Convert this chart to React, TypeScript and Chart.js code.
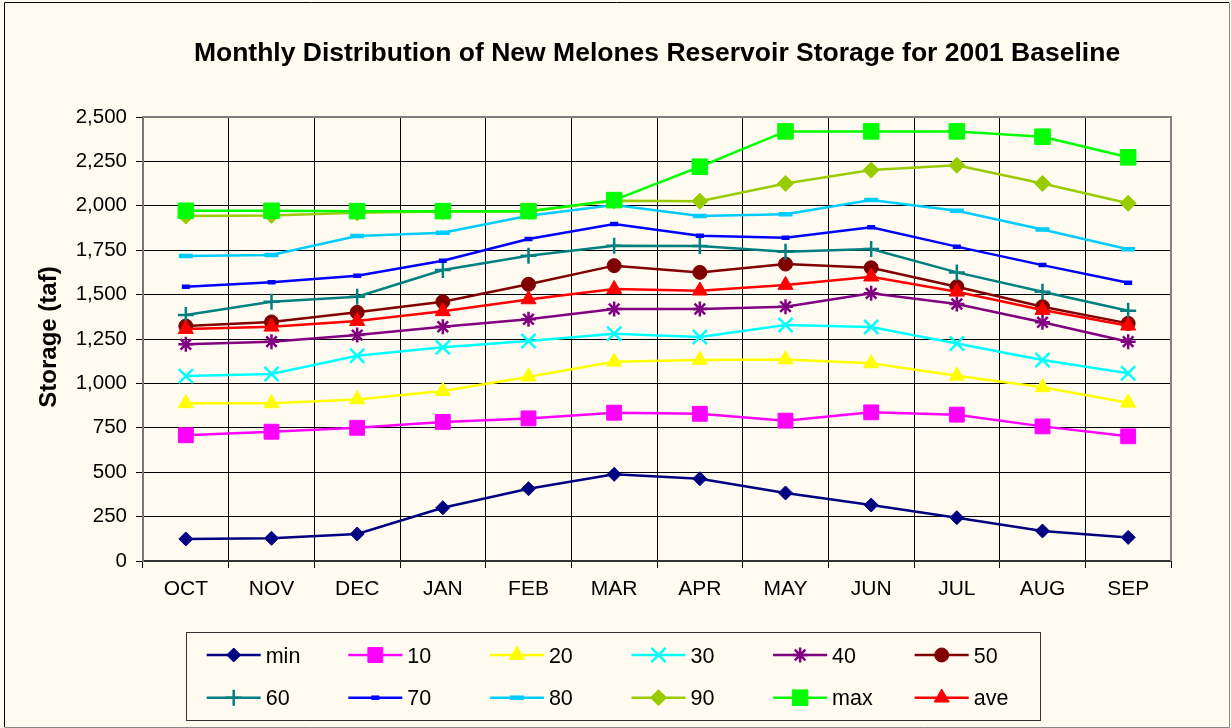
import React, { useEffect, useRef } from "react";
import { Chart, registerables } from "chart.js";
import { drawPoint } from "chart.js/helpers";
Chart.register(...registerables);

const months = ["OCT", "NOV", "DEC", "JAN", "FEB", "MAR", "APR", "MAY", "JUN", "JUL", "AUG", "SEP"];
const yTickValues = [0, 250, 500, 750, 1000, 1250, 1500, 1750, 2000, 2250, 2500];

const minVals = [124, 128, 152, 300, 407, 488, 463, 383, 315, 244, 169, 133];
const p10 = [708, 728, 750, 783, 803, 835, 829, 790, 837, 824, 758, 702];
const p20 = [888, 888, 910, 957, 1038, 1122, 1132, 1135, 1113, 1043, 978, 891];
const p30 = [1041, 1053, 1156, 1203, 1239, 1280, 1261, 1329, 1318, 1225, 1132, 1057];
const p40 = [1220, 1235, 1272, 1319, 1361, 1419, 1419, 1432, 1507, 1447, 1344, 1235];
const p50 = [1323, 1346, 1400, 1460, 1558, 1663, 1625, 1672, 1651, 1544, 1432, 1338];
const p60 = [1385, 1460, 1488, 1638, 1719, 1775, 1773, 1741, 1757, 1625, 1516, 1409];
const p70 = [1544, 1569, 1606, 1691, 1813, 1897, 1831, 1820, 1879, 1770, 1666, 1567];
const p80 = [1717, 1723, 1830, 1848, 1944, 2004, 1942, 1952, 2032, 1972, 1867, 1755];
const p90 = [1942, 1946, 1961, 1968, 1968, 2028, 2026, 2126, 2201, 2228, 2126, 2014];
const maxVals = [1972, 1972, 1970, 1970, 1970, 2032, 2220, 2419, 2419, 2419, 2389, 2273];
const aveVals = [1306, 1319, 1351, 1406, 1473, 1531, 1522, 1554, 1601, 1516, 1413, 1325];

const seriesNames = ["min", "10", "20", "30", "40", "50", "60", "70", "80", "90", "max", "ave"];
const seriesData = [minVals, p10, p20, p30, p40, p50, p60, p70, p80, p90, maxVals, aveVals];
const seriesColors = ["#000080", "#FF00FF", "#FFFF00", "#00FFFF", "#800080", "#800000", "#008080", "#0000FF", "#00CCFF", "#99CC00", "#00FF00", "#FF0000"];
const seriesStyles = ["rectRot", "rect", "triangle", "crossRot", "star", "circle", "cross", "line", "line", "rectRot", "rect", "triangle"];
const seriesRadius = [7, 10.5, 8.7, 10, 7.5, 7, 8, 4, 7, 8, 11, 8.7];
const seriesPointBorder = [1, 1, 1, 2.5, 2.5, 1, 2.5, 4.5, 4.5, 1, 1, 1];

const BG = "#FFFBF0";
const FONT = "Arial, 'Liberation Sans', sans-serif";

export default function App() {
  const ref = useRef<HTMLCanvasElement>(null);
  useEffect(() => {
    document.body.style.margin = "0";
    const canvas = ref.current!;
    const decor = {
      id: "decor",
      beforeDraw(chart: any) {
        const c = chart.ctx;
        c.save();
        c.fillStyle = BG;
        c.fillRect(0, 0, chart.width, chart.height);
        c.restore();
      },
      beforeDatasetsDraw(chart: any) {
        const c = chart.ctx;
        const a = chart.chartArea;
        c.save();
        c.strokeStyle = "#808080";
        c.lineWidth = 2;
        c.beginPath();
        c.moveTo(a.left, a.top);
        c.lineTo(a.right, a.top);
        c.lineTo(a.right, a.bottom);
        c.stroke();
        c.restore();
      },
      afterDraw(chart: any) {
        const c = chart.ctx;
        const a = chart.chartArea;
        c.save();
        // title
        c.fillStyle = "#000";
        c.font = `bold 26.5px ${FONT}`;
        c.textAlign = "center";
        c.textBaseline = "alphabetic";
        c.fillText("Monthly Distribution of New Melones Reservoir Storage for 2001 Baseline", (a.left + a.right) / 2, 61);
        // y label
        c.save();
        c.translate(56, 337);
        c.rotate(-Math.PI / 2);
        c.font = `bold 24px ${FONT}`;
        c.fillText("Storage (taf)", 0, 0);
        c.restore();
        // legend box
        c.strokeStyle = "#333";
        c.lineWidth = 1;
        c.strokeRect(186.5, 632.5, 854, 88);
        c.font = `21.5px ${FONT}`;
        c.textAlign = "left";
        for (let i = 0; i < seriesNames.length; i++) {
          const col = i % 6;
          const row = Math.floor(i / 6);
          const sx = 206.7 + col * 141.6;
          const sy = 655 + row * 42.7;
          c.strokeStyle = seriesColors[i];
          c.fillStyle = seriesColors[i];
          c.lineWidth = 2.5;
          c.beginPath();
          c.moveTo(sx, sy);
          c.lineTo(sx + 54, sy);
          c.stroke();
          c.lineWidth = seriesPointBorder[i];
          drawPoint(c, { pointStyle: seriesStyles[i], radius: seriesRadius[i], rotation: 0, borderWidth: seriesPointBorder[i] } as any, sx + 27, sy);
          c.fillStyle = "#000";
          c.fillText(seriesNames[i], sx + 59, sy + 7.5);
        }
        // outer border
        c.lineWidth = 1;
        c.strokeStyle = "#000";
        c.beginPath();
        c.moveTo(4.5, 727);
        c.lineTo(4.5, 2.5);
        c.lineTo(1229, 2.5);
        c.stroke();
        c.strokeStyle = "#888";
        c.beginPath();
        c.moveTo(1229.5, 2.5);
        c.lineTo(1229.5, 727.5);
        c.lineTo(4.5, 727.5);
        c.stroke();
        c.restore();
      },
    };

    const chart = new Chart(canvas, {
      type: "line",
      data: {
        labels: months,
        datasets: seriesNames.map((name, i) => ({
          label: name,
          data: seriesData[i],
          borderColor: seriesColors[i],
          backgroundColor: seriesColors[i],
          borderWidth: 2.5,
          pointStyle: seriesStyles[i] as any,
          pointRadius: seriesRadius[i],
          pointBackgroundColor: seriesColors[i],
          pointBorderColor: seriesColors[i],
          pointBorderWidth: seriesPointBorder[i],
          tension: 0,
          fill: false,
          order: seriesNames.length - 1 - i,
        })),
      },
      options: {
        responsive: false,
        animation: false,
        devicePixelRatio: 1,
        layout: { padding: { left: 0, top: 117, right: 60, bottom: 0 } },
        plugins: { legend: { display: false }, title: { display: false }, tooltip: { enabled: false } },
        scales: {
          x: {
            type: "category",
            offset: true,
            grid: { offset: true, color: "#000", lineWidth: 1, tickLength: 7, drawTicks: true },
            border: { color: "#333", width: 2 },
            ticks: { color: "#000", font: { family: FONT, size: 21 }, padding: 9, maxRotation: 0, autoSkip: false },
            afterFit: (s: any) => { s.height = 167; },
          },
          y: {
            min: 0,
            max: 2500,
            afterBuildTicks: (s: any) => { s.ticks = yTickValues.map((v) => ({ value: v })); },
            grid: { color: "#000", lineWidth: 1, tickLength: 7 },
            border: { color: "#777", width: 2 },
            ticks: {
              color: "#000",
              font: { family: FONT, size: 20.5 },
              padding: 9,
              callback: (v: any) => Number(v).toLocaleString("en-US"),
            },
            afterFit: (s: any) => { s.width = 143; },
          },
        },
      },
      plugins: [decor],
    });
    return () => chart.destroy();
  }, []);
  return (
    <div style={{ width: 1231, height: 728 }}>
      <canvas ref={ref} width={1231} height={728} style={{ display: "block" }} />
    </div>
  );
}
